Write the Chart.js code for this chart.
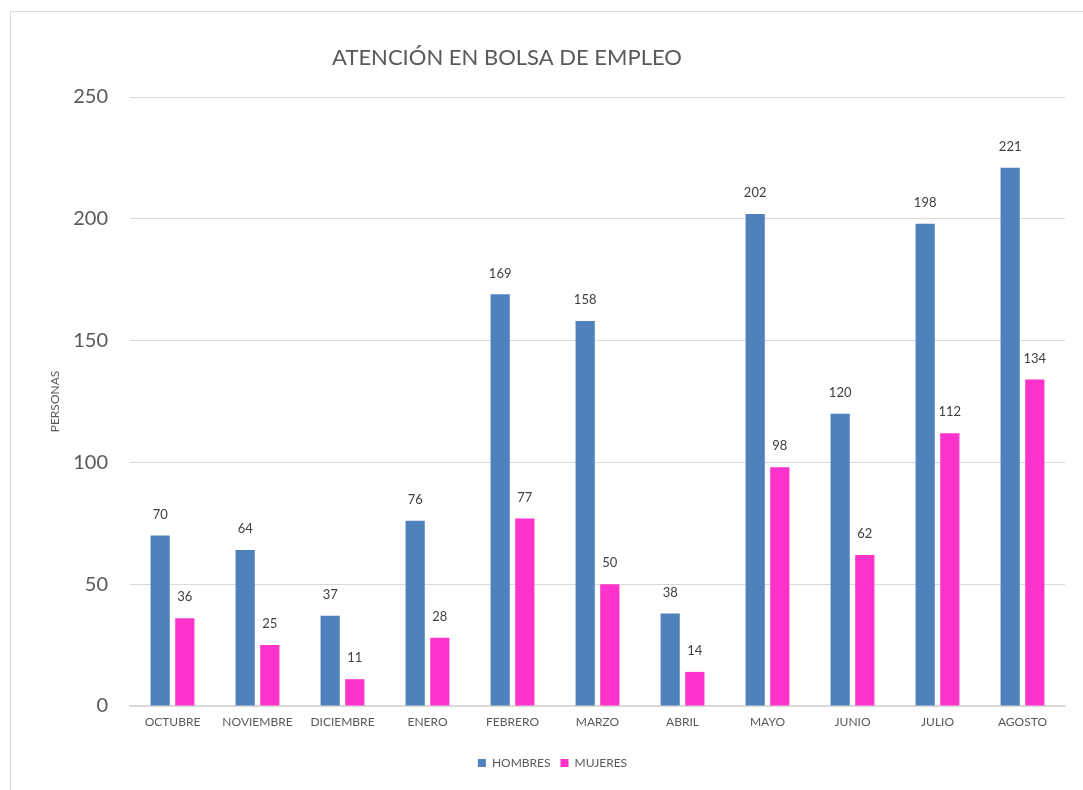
<!DOCTYPE html>
<html>
<head>
<meta charset="utf-8">
<script src="https://cdn.jsdelivr.net/npm/chart.js@4/dist/chart.umd.min.js"></script>
<style>
  body { margin: 0; background: #fff; }
  #wrap { position: relative; width: 1083px; height: 790px; }
  #frame { position: absolute; left: 10px; top: 11px; width: 1090px; height: 800px; border: 1px solid #d9d9d9; box-sizing: border-box; }
  canvas { position: absolute; left: 0; top: 0; }
</style>
</head>
<body>
<div id="wrap">
  <div id="frame"></div>
  <canvas id="myChart" width="1083" height="790"></canvas>
</div>
<script>
// datos del grafico
const meses = ['OCTUBRE', 'NOVIEMBRE', 'DICIEMBRE', 'ENERO', 'FEBRERO', 'MARZO', 'ABRIL', 'MAYO', 'JUNIO', 'JULIO', 'AGOSTO'];
const hombres = [70, 64, 37, 76, 169, 158, 38, 202, 120, 198, 221];
const mujeres = [36, 25, 11, 28, 77, 50, 14, 98, 62, 112, 134];
const yTicks = [0, 50, 100, 150, 200, 250];

const fuente = 'Lato, "Open Sans", sans-serif';

// etiquetas de valor encima de cada barra
const etiquetas = {
  id: 'etiquetas',
  afterDatasetsDraw: function (chart) {
    var ctx = chart.ctx;
    ctx.save();
    ctx.font = '13px ' + fuente;
    ctx.fillStyle = '#404040';
    ctx.textAlign = 'center';
    ctx.textBaseline = 'middle';
    chart.data.datasets.forEach(function (ds, i) {
      chart.getDatasetMeta(i).data.forEach(function (bar, j) {
        ctx.fillText(ds.data[j], bar.x, bar.y - 21);
      });
    });
    ctx.restore();
  }
};

// titulo dibujado a mano (no centrado en el lienzo)
const titulo = {
  id: 'titulo',
  afterDraw: function (chart) {
    var ctx = chart.ctx;
    ctx.save();
    ctx.font = '22px ' + fuente;
    ctx.fillStyle = '#595959';
    ctx.textAlign = 'center';
    ctx.textBaseline = 'middle';
    ctx.fillText('ATENCIÓN EN BOLSA DE EMPLEO', 507, 58);
    ctx.restore();
  }
};

const data = {
  labels: meses,
  datasets: [
    { label: 'HOMBRES', data: hombres, backgroundColor: '#4F81BD', categoryPercentage: 0.58, barPercentage: 0.78 },
    { label: 'MUJERES', data: mujeres, backgroundColor: '#FF33CC', categoryPercentage: 0.58, barPercentage: 0.78 }
  ]
};

const config = {
  type: 'bar',
  data: data,
  options: {
    responsive: false,
    animation: false,
    layout: { padding: { left: 40, right: 18, top: 97, bottom: 11 } },
    plugins: {
      title: { display: false },
      tooltip: { enabled: false },
      legend: {
        position: 'bottom',
        labels: {
          boxWidth: 8,
          boxHeight: 8,
          padding: 10,
          color: '#595959',
          font: { size: 12, family: fuente }
        }
      }
    },
    scales: {
      x: {
        grid: { display: false, drawTicks: false },
        border: { color: '#d9d9d9', width: 1.5 },
        ticks: { color: '#595959', font: { size: 12, family: fuente }, padding: 9, maxRotation: 0 },
        afterFit: function (axis) { axis.height = 41; }
      },
      y: {
        min: 0,
        max: 250,
        afterBuildTicks: function (axis) { axis.ticks = yTicks.map(function (v) { return { value: v }; }); },
        grid: { color: '#d9d9d9', drawTicks: false },
        border: { display: false },
        ticks: { color: '#595959', font: { size: 20, family: fuente }, padding: 22 },
        title: { display: true, text: 'PERSONAS', color: '#595959', font: { size: 12, family: fuente }, padding: 8 },
        afterFit: function (axis) { axis.width = 90; }
      }
    }
  },
  plugins: [etiquetas, titulo]
};

const myChart = new Chart(document.getElementById('myChart'), config);
</script>
</body>
</html>
